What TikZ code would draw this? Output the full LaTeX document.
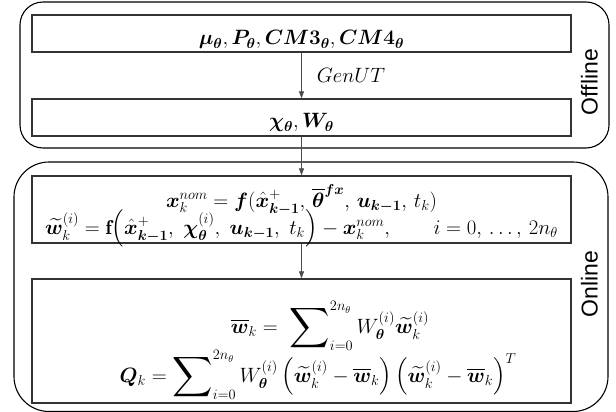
\documentclass[tikz,border=0pt]{standalone}
\usepackage{amsmath,bm,graphicx}
\usepackage{fontspec}
\newfontfamily\etiqfont{Liberation Sans}
\usetikzlibrary{arrows.meta}
\newcommand{\eqsize}{\fontsize{20}{27}\selectfont}
\newcommand{\sumagrande}{\mathop{\vcenter{\hbox{\scalebox{1.35}{$\displaystyle\sum$}}}}\nolimits}
\begin{document}
\begin{tikzpicture}[x=1pt, y=-1pt, >={Triangle[length=7pt,width=5pt]},
  caja/.style={draw=black!80, line width=1.3pt, minimum width=539pt, inner sep=0pt},
  formula/.style={anchor=base, inner sep=0pt, font=\eqsize},
  fase/.style={draw=black, line width=1.1pt},
  etiqueta/.style={rotate=90, inner sep=0pt, font=\etiqfont\fontsize{23}{23}\selectfont},
  flecha/.style={->, black!70, line width=0.7pt}]
\useasboundingbox (0,0) rectangle (616,412);
% Fase offline
\draw[fase, rounded corners=23pt] (20,2) rectangle (609,148);
\node[etiqueta] (offline) at (589.5,82) {Offline};
\node[caja, minimum height=37pt] (momentos) at (301.5,33.5) {};
\node[formula] (momentostxt) at (301.5,45)
  {$\bm{\mu}_{\bm\theta}, \bm{P}_{\bm\theta}, \bm{CM3}_{\bm\theta}, \bm{CM4}_{\bm\theta}$};
\node[caja, minimum height=37pt] (sigma) at (301.5,117.5) {};
\node[formula] (sigmatxt) at (301.5,128) {$\bm{\chi}_{\bm\theta}, \bm{W}_{\bm\theta}$};
\draw[flecha] (momentos) -- (sigma)
  node[midway, anchor=west, xshift=15pt, inner sep=0pt, text=black, font=\eqsize] (genut) {$GenUT$};
% Fase online
\draw[fase, rounded corners=35pt] (14,162) rectangle (608,411.5);
\node[etiqueta] (online) at (589.5,284) {Online};
\node[caja, minimum height=67pt] (ruido) at (301.5,209.5) {};
\node[formula] (nominal) at (301.5,207)
  {$\bm{x}_k^{nom} = \bm{f}(\hat{\bm{x}}_{\bm{k-1}}^{+},\, \overline{\bm\theta}^{\bm{fx}},\, \bm{u}_{\bm{k-1}},\, t_k)$};
\node[formula] (desvio) at (301.5,234)
  {$\widetilde{\bm{w}}_k^{(i)} = \mathbf{f}\Bigl(\hat{\bm{x}}_{\bm{k-1}}^{+},\ \bm{\chi}_{\bm\theta}^{(i)},\ \bm{u}_{\bm{k-1}},\ t_k\Bigr) - \bm{x}_k^{nom},\qquad i = 0,\, \ldots,\, 2n_\theta$};
\node[caja, minimum height=124pt] (covar) at (301.5,341) {};
\node[formula] (media) at (330,333)
  {$\overline{\bm{w}}_k =\ \sumagrande_{i=0}^{2n_\theta} W_{\bm\theta}^{(i)}\widetilde{\bm{w}}_k^{(i)}$};
\node[formula] (cov) at (318,382)
  {$\bm{Q}_k = \sumagrande_{i=0}^{2n_\theta} W_{\bm\theta}^{(i)}\,\Bigl(\widetilde{\bm{w}}_k^{(i)} - \overline{\bm{w}}_k\Bigr)\,\Bigl(\widetilde{\bm{w}}_k^{(i)} - \overline{\bm{w}}_k\Bigr)^{T}$};
\draw[flecha] (sigma) -- (ruido);
\draw[flecha] (ruido) -- (covar);
\end{tikzpicture}
\end{document}
